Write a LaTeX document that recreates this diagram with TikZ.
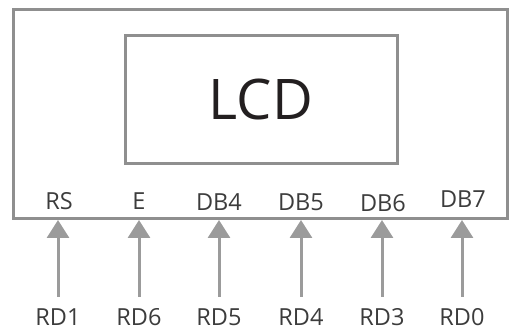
\documentclass[tikz,border=0pt]{standalone}
\usepackage{fontspec}
\setmainfont{Open Sans}
\usetikzlibrary{arrows.meta}
\definecolor{frame}{HTML}{8F8F8F}
\definecolor{wire}{HTML}{9B9B9B}
\definecolor{pin}{HTML}{3C3C3C}
\definecolor{ink}{HTML}{231F20}
\begin{document}
\begin{tikzpicture}[x=1pt,y=1pt,
  panel/.style={draw=frame,line width=3pt,inner sep=0pt,fill=none},
  pinlabel/.style={anchor=base,text=pin,inner sep=0pt,font=\fontsize{23.5}{28}\selectfont},
  signal/.style={draw=wire,line width=3pt,-{Triangle[width=22pt,length=18pt]}}]
  \useasboundingbox (0,0) rectangle (509,332);
  % module outline and display window
  \node[panel,minimum width=494pt,minimum height=208.5pt] (board) at (260.5,217.75) {};
  \node[panel,minimum width=272pt,minimum height=128pt] (screen) at (261.3,232.7) {};
  \node[anchor=base,text=ink,inner sep=0pt,font=\fontsize{56}{64}\selectfont] (title) at (261,212.5) {LCD};
  % pins on the module
  \node[pinlabel] (rs)  at (59,122) {RS};
  \node[pinlabel] (en)  at (139,122) {E};
  \node[pinlabel] (db4) at (219,121) {DB4};
  \node[pinlabel] (db5) at (301,121) {DB5};
  \node[pinlabel] (db6) at (383,120) {DB6};
  \node[pinlabel] (db7) at (463,124) {DB7};
  % port lines driving them
  \node[pinlabel] (rd1) at (58,6) {RD1};
  \node[pinlabel] (rd6) at (139,6) {RD6};
  \node[pinlabel] (rd5) at (219,6) {RD5};
  \node[pinlabel] (rd4) at (301,6) {RD4};
  \node[pinlabel] (rd3) at (382,6) {RD3};
  \node[pinlabel] (rd0) at (462,6) {RD0};
  \foreach \src/\dst in {rd1/rs,rd6/en,rd5/db4,rd4/db5,rd3/db6,rd0/db7}{
    \coordinate (\src-top) at ([yshift=29pt]\src.base);
    \draw[signal] (\src-top) -- (\src-top |- board.south);
  }
\end{tikzpicture}
\end{document}
